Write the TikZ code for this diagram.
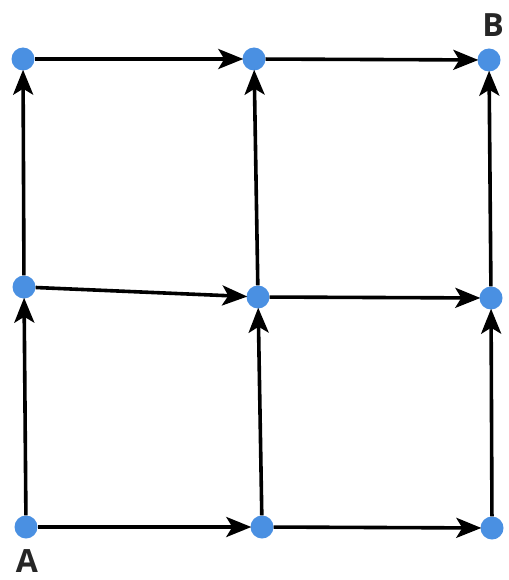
\documentclass[tikz,border=0pt]{standalone}
\usepackage{fontspec}
\setmainfont{Open Sans}
\usetikzlibrary{arrows.meta}
\definecolor{dotblue}{RGB}{74,144,226}
\tikzset{
  dot/.style={circle,fill=dotblue,draw=none,minimum size=23pt,inner sep=0pt},
  conn/.style={line width=3.6pt,draw=black,-{Stealth[length=25pt,width=20pt,inset=6pt]},shorten >=-1pt},
  lbl/.style={font=\fontsize{32}{32}\selectfont\bfseries,text=black!85,inner sep=0pt}
}
\begin{document}
\begin{tikzpicture}[x=1pt,y=-1pt]
\useasboundingbox (0,0) rectangle (508,580);
\node[dot] (n00) at (26,527) {};
\node[dot] (n10) at (262,527) {};
\node[dot] (n20) at (492,528) {};
\node[dot] (n01) at (24,287) {};
\node[dot] (n11) at (258,297) {};
\node[dot] (n21) at (491,298) {};
\node[dot] (n02) at (23,59) {};
\node[dot] (n12) at (254,59) {};
\node[dot] (n22) at (489,60) {};
\node[lbl] (la) at (27,561) {A};
\node[lbl] (lb) at (493,25) {B};
\draw[conn] (n00) -- (n10);
\draw[conn] (n10) -- (n20);
\draw[conn] (n01) -- (n11);
\draw[conn] (n11) -- (n21);
\draw[conn] (n02) -- (n12);
\draw[conn] (n12) -- (n22);
\draw[conn] (n00) -- (n01);
\draw[conn] (n01) -- (n02);
\draw[conn] (n10) -- (n11);
\draw[conn] (n11) -- (n12);
\draw[conn] (n20) -- (n21);
\draw[conn] (n21) -- (n22);
\end{tikzpicture}
\end{document}
